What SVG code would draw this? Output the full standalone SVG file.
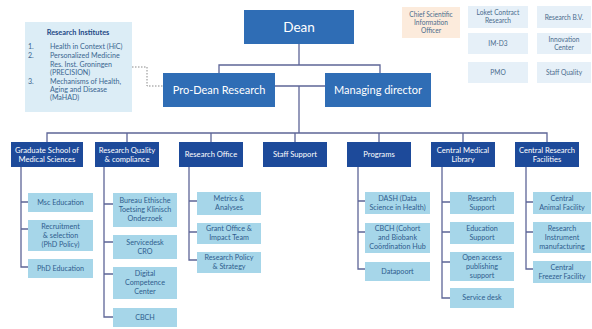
<svg xmlns="http://www.w3.org/2000/svg" width="592" height="329" viewBox="0 0 592 329">
<style>
text{font-family:"Lato","Open Sans","Liberation Sans",sans-serif;text-anchor:middle}
.top{fill:#2f6db5}
.top2{fill:#1d4a9a}
.child{fill:#a6d6e9}
.side{fill:#e6f0f8}
.peach{fill:#fcebdc}
.tw{fill:#ffffff}
.t1{font-size:13.5px}
.t2{font-size:11px}
.t3{font-size:7.6px}
.tc{fill:#2f5d8e;font-size:7.2px}
.ts{fill:#4a6b8c;font-size:6.6px}
.ri{font-size:7.1px;fill:#3a6690;text-anchor:start}
.conn{fill:none;stroke:#5d6597;stroke-width:1.3}
.dot{fill:none;stroke:#8a8a8a;stroke-width:1;stroke-dasharray:1.5 1.5}
</style>
<rect width="592" height="329" fill="#ffffff"/>
<g id="connectors">
<path class="conn" d="M299,43 V65 M219,73 V65 H380 V73"/>
<path class="conn" d="M275,86 H325 M299,86 V133"/>
<path class="conn" d="M47,142 V133 H547 V142 M127,133 V142 M211,133 V142 M295,133 V142 M379,133 V142 M463,133 V142"/>
<path class="conn" d="M21,167 V267 H28 M21,202 H28 M21,229 H28"/>
<path class="conn" d="M104,167 V317 H113 M104,204 H113 M104,242 H113 M104,274 H113"/>
<path class="conn" d="M189,167 V260 H197 M189,201 H197 M189,232 H197"/>
<path class="conn" d="M358,167 V269 H365 M358,201 H365 M358,232 H365"/>
<path class="conn" d="M442,167 V298 H450 M442,202 H450 M442,232 H450 M442,262 H450"/>
<path class="conn" d="M526,167 V269 H533 M526,202 H533 M526,232 H533"/>
<path class="dot" d="M132,67 H147 V86 H163"/>
</g>
<g id="research-institutes">
<rect x="25" y="22" width="107" height="90" fill="#dcedf6"/>
<text x="78" y="35" font-size="7.4" font-weight="bold" fill="#1f4a86">Research Institutes</text>
<text class="ri" x="28" y="49">1.</text>
<text class="ri" x="28" y="58">2.</text>
<text class="ri" x="28" y="84">3.</text>
<text class="ri" x="50" y="49">Health in Context (HiC)</text>
<text class="ri" x="50" y="58">Personalized Medicine</text>
<text class="ri" x="50" y="67">Res. Inst. Groningen</text>
<text class="ri" x="50" y="75">(PRECISION)</text>
<text class="ri" x="50" y="84">Mechanisms of Health,</text>
<text class="ri" x="50" y="92">Aging and Disease</text>
<text class="ri" x="50" y="100">(MaHAD)</text>
</g>
<g id="dean"><rect class="top" x="244" y="10" width="110" height="34"/><text class="tw t1" x="299" y="31.5">Dean</text></g>
<g id="pro-dean"><rect class="top" x="163" y="73" width="112" height="34"/><text class="tw t2" x="219" y="93.5">Pro-Dean Research</text></g>
<g id="managing-director"><rect class="top" x="325" y="73" width="106" height="34"/><text class="tw t2" x="378" y="93.5">Managing director</text></g>
<g id="csio"><rect class="peach" x="402" y="7" width="58" height="31"/><text class="ts" x="431" y="17">Chief Scientific</text><text class="ts" x="431" y="25">Information</text><text class="ts" x="431" y="33">Officer</text></g>
<g id="loket"><rect class="side" x="468" y="6" width="60" height="22"/><text class="ts" x="498" y="15">Loket Contract</text><text class="ts" x="498" y="23">Research</text></g>
<g id="research-bv"><rect class="side" x="537" y="6" width="54" height="22"/><text class="ts" x="564" y="20">Research B.V.</text></g>
<g id="im-d3"><rect class="side" x="468" y="33" width="60" height="21"/><text class="ts" x="498" y="46">IM-D3</text></g>
<g id="innovation"><rect class="side" x="537" y="33" width="54" height="21"/><text class="ts" x="564" y="42">Innovation</text><text class="ts" x="564" y="50">Center</text></g>
<g id="pmo"><rect class="side" x="468" y="62" width="60" height="21"/><text class="ts" x="498" y="75">PMO</text></g>
<g id="staff-quality"><rect class="side" x="537" y="62" width="54" height="21"/><text class="ts" x="564" y="75">Staff Quality</text></g>
<g id="graduate-school"><rect class="top2" x="11" y="142" width="72" height="25"/><text class="tw t3" x="47" y="153">Graduate School of</text><text class="tw t3" x="47" y="162">Medical Sciences</text></g>
<g id="research-quality"><rect class="top2" x="95" y="142" width="64" height="25"/><text class="tw t3" x="127" y="152.5">Research Quality</text><text class="tw t3" x="127" y="161.5">&amp; compliance</text></g>
<g id="research-office"><rect class="top2" x="179" y="142" width="64" height="25"/><text class="tw t3" x="211" y="157">Research Office</text></g>
<g id="staff-support"><rect class="top2" x="263" y="142" width="64" height="25"/><text class="tw t3" x="295" y="157">Staff Support</text></g>
<g id="programs"><rect class="top2" x="347" y="142" width="64" height="25"/><text class="tw t3" x="379" y="157">Programs</text></g>
<g id="central-medical-library"><rect class="top2" x="431" y="142" width="64" height="25"/><text class="tw t3" x="463" y="152.5">Central Medical</text><text class="tw t3" x="463" y="161.5">Library</text></g>
<g id="central-research-facilities"><rect class="top2" x="515" y="142" width="64" height="25"/><text class="tw t3" x="547" y="152.5">Central Research</text><text class="tw t3" x="547" y="161.5">Facilities</text></g>
<g id="msc-education"><rect class="child" x="28" y="193" width="65" height="19"/><text class="tc" x="60.5" y="205">Msc Education</text></g>
<g id="recruitment"><rect class="child" x="28" y="220" width="65" height="31"/><text class="tc" x="60.5" y="229">Recruitment</text><text class="tc" x="60.5" y="238">&amp; selection</text><text class="tc" x="60.5" y="247">(PhD Policy)</text></g>
<g id="phd-education"><rect class="child" x="28" y="259" width="65" height="19"/><text class="tc" x="60.5" y="271">PhD Education</text></g>
<g id="bureau-ethische"><rect class="child" x="113" y="193" width="64" height="34"/><text class="tc" x="145" y="203">Bureau Ethische</text><text class="tc" x="145" y="212">Toetsing Klinisch</text><text class="tc" x="145" y="221">Onderzoek</text></g>
<g id="servicedesk-cro"><rect class="child" x="113" y="235" width="64" height="24"/><text class="tc" x="145" y="245">Servicedesk</text><text class="tc" x="145" y="254">CRO</text></g>
<g id="digital-competence"><rect class="child" x="113" y="267" width="64" height="32"/><text class="tc" x="145" y="276">Digital</text><text class="tc" x="145" y="285">Competence</text><text class="tc" x="145" y="294">Center</text></g>
<g id="cbch-rq"><rect class="child" x="113" y="308" width="64" height="19"/><text class="tc" x="145" y="320">CBCH</text></g>
<g id="metrics"><rect class="child" x="197" y="192" width="64" height="23"/><text class="tc" x="229" y="201">Metrics &amp;</text><text class="tc" x="229" y="210">Analyses</text></g>
<g id="grant-office"><rect class="child" x="197" y="223" width="64" height="21"/><text class="tc" x="229" y="231">Grant Office &amp;</text><text class="tc" x="229" y="240">Impact Team</text></g>
<g id="research-policy"><rect class="child" x="197" y="252" width="64" height="21"/><text class="tc" x="229" y="260">Research Policy</text><text class="tc" x="229" y="269">&amp; Strategy</text></g>
<g id="dash"><rect class="child" x="365" y="192" width="65" height="22"/><text class="tc" x="397.5" y="201">DASH (Data</text><text class="tc" x="397.5" y="210">Science in Health)</text></g>
<g id="cbch-programs"><rect class="child" x="365" y="223" width="65" height="30"/><text class="tc" x="397.5" y="231">CBCH (Cohort</text><text class="tc" x="397.5" y="240">and Biobank</text><text class="tc" x="397.5" y="249">Coördination Hub</text></g>
<g id="datapoort"><rect class="child" x="365" y="262" width="65" height="19"/><text class="tc" x="397.5" y="274">Datapoort</text></g>
<g id="research-support"><rect class="child" x="450" y="192" width="64" height="22"/><text class="tc" x="482" y="201">Research</text><text class="tc" x="482" y="210">Support</text></g>
<g id="education-support"><rect class="child" x="450" y="222" width="64" height="22"/><text class="tc" x="482" y="231">Education</text><text class="tc" x="482" y="240">Support</text></g>
<g id="open-access"><rect class="child" x="450" y="252" width="64" height="29"/><text class="tc" x="482" y="260">Open access</text><text class="tc" x="482" y="269">publishing</text><text class="tc" x="482" y="278">support</text></g>
<g id="service-desk"><rect class="child" x="450" y="288" width="64" height="20"/><text class="tc" x="482" y="300">Service desk</text></g>
<g id="central-animal"><rect class="child" x="533" y="192" width="58" height="22"/><text class="tc" x="562" y="201">Central</text><text class="tc" x="562" y="210">Animal Facility</text></g>
<g id="research-instrument"><rect class="child" x="533" y="222" width="58" height="31"/><text class="tc" x="562" y="231">Research</text><text class="tc" x="562" y="240">Instrument</text><text class="tc" x="562" y="249">manufacturing</text></g>
<g id="central-freezer"><rect class="child" x="533" y="261" width="58" height="22"/><text class="tc" x="562" y="270">Central</text><text class="tc" x="562" y="279">Freezer Facility</text></g>
</svg>
